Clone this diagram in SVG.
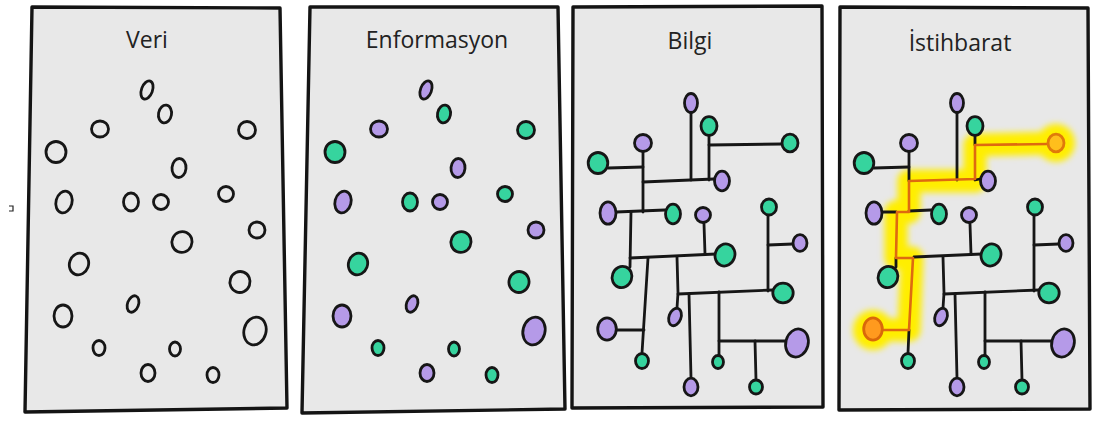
<svg xmlns="http://www.w3.org/2000/svg" width="1096" height="421" viewBox="0 0 1096 421">
<defs>
<style>
.panel{fill:#e8e8e8;stroke:#141414;stroke-width:3.4;stroke-linejoin:round}
.title{font-family:"Open Sans","Noto Sans","Liberation Sans",sans-serif;font-size:23px;fill:#222222;text-anchor:middle}
.n{stroke:#161616;stroke-width:2.8}
.e{fill:none}
.p{fill:#b59ae8}
.g{fill:#36d49e}
.o1{fill:#ff9a1e;stroke:#d9680a}
.o2{fill:#ffbe1c;stroke:#e07a0a}
.c{fill:none;stroke:#161616;stroke-width:2.8;stroke-linecap:round}
.hl{fill:none;stroke:#de6a10;stroke-width:2.6;stroke-linecap:round;stroke-linejoin:round}
</style>
<filter id="glow" x="-20%" y="-20%" width="140%" height="140%"><feGaussianBlur stdDeviation="3"/></filter>
</defs>
<rect width="1096" height="421" fill="#ffffff"/>
<path d="M9 206 H13 V211 H9" fill="none" stroke="#222" stroke-width="1.2"/>

<g id="panel-veri">
<path class="panel" d="M32 7 L280 8 L287 408 L25 412 Z"/>
<text class="title" x="147" y="48">Veri</text>
<g id="p1-n1"><ellipse class="n e" cx="147" cy="90" rx="5.5" ry="9.5" transform="rotate(20 147 90)"/></g>
<g id="p1-n2"><ellipse class="n e" cx="165" cy="114" rx="6.5" ry="9" transform="rotate(10 165 114)"/></g>
<g id="p1-n3"><ellipse class="n e" cx="100" cy="129" rx="8.5" ry="8"/></g>
<g id="p1-n4"><ellipse class="n e" cx="247" cy="130" rx="8.5" ry="8.5"/></g>
<g id="p1-n5"><ellipse class="n e" cx="56" cy="152" rx="10" ry="10.5"/></g>
<g id="p1-n6"><ellipse class="n e" cx="179" cy="168" rx="7" ry="9.5" transform="rotate(5 179 168)"/></g>
<g id="p1-n7"><ellipse class="n e" cx="64" cy="202" rx="8" ry="11" transform="rotate(15 64 202)"/></g>
<g id="p1-n8"><ellipse class="n e" cx="131" cy="202" rx="7.5" ry="9"/></g>
<g id="p1-n9"><ellipse class="n e" cx="161" cy="202" rx="7.5" ry="7.5"/></g>
<g id="p1-n10"><ellipse class="n e" cx="226" cy="194" rx="7.5" ry="7.5"/></g>
<g id="p1-n11"><ellipse class="n e" cx="257" cy="230" rx="8" ry="8"/></g>
<g id="p1-n12"><ellipse class="n e" cx="182" cy="242" rx="10" ry="10.5" transform="rotate(25 182 242)"/></g>
<g id="p1-n13"><ellipse class="n e" cx="79" cy="264" rx="9.5" ry="11" transform="rotate(20 79 264)"/></g>
<g id="p1-n14"><ellipse class="n e" cx="240" cy="282" rx="10" ry="10.5" transform="rotate(20 240 282)"/></g>
<g id="p1-n15"><ellipse class="n e" cx="133" cy="304" rx="5.5" ry="8.5" transform="rotate(20 133 304)"/></g>
<g id="p1-n16"><ellipse class="n e" cx="63" cy="316" rx="9" ry="11"/></g>
<g id="p1-n17"><ellipse class="n e" cx="255" cy="331" rx="11" ry="14" transform="rotate(15 255 331)"/></g>
<g id="p1-n18"><ellipse class="n e" cx="99" cy="348" rx="6" ry="7.5"/></g>
<g id="p1-n19"><ellipse class="n e" cx="175" cy="349" rx="5.5" ry="7"/></g>
<g id="p1-n20"><ellipse class="n e" cx="148" cy="373" rx="7" ry="8.5"/></g>
<g id="p1-n21"><ellipse class="n e" cx="213" cy="375" rx="6" ry="7.5"/></g>
</g>

<g id="panel-enformasyon">
<path class="panel" d="M310 7 L558 7 L565 409 L302 413 Z"/>
<text class="title" x="437" y="48">Enformasyon</text>
<g transform="translate(279 0)">
<g id="p2-n1"><ellipse class="n p" cx="147" cy="90" rx="5.5" ry="9.5" transform="rotate(20 147 90)"/></g>
<g id="p2-n2"><ellipse class="n g" cx="165" cy="114" rx="6.5" ry="9" transform="rotate(10 165 114)"/></g>
<g id="p2-n3"><ellipse class="n p" cx="100" cy="129" rx="8.5" ry="8"/></g>
<g id="p2-n4"><ellipse class="n g" cx="247" cy="130" rx="8.5" ry="8.5"/></g>
<g id="p2-n5"><ellipse class="n g" cx="56" cy="152" rx="10" ry="10.5"/></g>
<g id="p2-n6"><ellipse class="n p" cx="179" cy="168" rx="7" ry="9.5" transform="rotate(5 179 168)"/></g>
<g id="p2-n7"><ellipse class="n p" cx="64" cy="202" rx="8" ry="11" transform="rotate(15 64 202)"/></g>
<g id="p2-n8"><ellipse class="n g" cx="131" cy="202" rx="7.5" ry="9"/></g>
<g id="p2-n9"><ellipse class="n p" cx="161" cy="202" rx="7.5" ry="7.5"/></g>
<g id="p2-n10"><ellipse class="n g" cx="226" cy="194" rx="7.5" ry="7.5"/></g>
<g id="p2-n11"><ellipse class="n p" cx="257" cy="230" rx="8" ry="8"/></g>
<g id="p2-n12"><ellipse class="n g" cx="182" cy="242" rx="10" ry="10.5" transform="rotate(25 182 242)"/></g>
<g id="p2-n13"><ellipse class="n g" cx="79" cy="264" rx="9.5" ry="11" transform="rotate(20 79 264)"/></g>
<g id="p2-n14"><ellipse class="n g" cx="240" cy="282" rx="10" ry="10.5" transform="rotate(20 240 282)"/></g>
<g id="p2-n15"><ellipse class="n p" cx="133" cy="304" rx="5.5" ry="8.5" transform="rotate(20 133 304)"/></g>
<g id="p2-n16"><ellipse class="n p" cx="63" cy="316" rx="9" ry="11"/></g>
<g id="p2-n17"><ellipse class="n p" cx="255" cy="331" rx="11" ry="14" transform="rotate(15 255 331)"/></g>
<g id="p2-n18"><ellipse class="n g" cx="99" cy="348" rx="6" ry="7.5"/></g>
<g id="p2-n19"><ellipse class="n g" cx="175" cy="349" rx="5.5" ry="7"/></g>
<g id="p2-n20"><ellipse class="n p" cx="148" cy="373" rx="7" ry="8.5"/></g>
<g id="p2-n21"><ellipse class="n g" cx="213" cy="375" rx="6" ry="7.5"/></g>
</g>
</g>

<g id="panel-bilgi">
<path class="panel" d="M573 7 L822 6 L823 407 L572 408 Z"/>
<text class="title" x="690" y="49">Bilgi</text>
<g id="p3-connectors">
<path class="c" d="M691 113 L691 180"/>
<path class="c" d="M709 136 L709 180"/>
<path class="c" d="M709 145 L782 144"/>
<path class="c" d="M643 182 L714 179"/>
<path class="c" d="M643 152 L643 212"/>
<path class="c" d="M608 168 L643 167"/>
<path class="c" d="M616 212 L665 210"/>
<path class="c" d="M631 212 L630 267"/>
<path class="c" d="M630 258 L716 254"/>
<path class="c" d="M704 224 L705 254"/>
<path class="c" d="M648 258 L642 353"/>
<path class="c" d="M616 330 L644 330"/>
<path class="c" d="M677 257 L678 293 L677 308"/>
<path class="c" d="M678 294 L773 290"/>
<path class="c" d="M768 215 L768 291"/>
<path class="c" d="M768 245 L793 244"/>
<path class="c" d="M689 294 L691 378"/>
<path class="c" d="M719 292 L719 355"/>
<path class="c" d="M719 341 L786 341"/>
<path class="c" d="M755 341 L756 380"/>
</g>
<g id="p3-nodes">
<g id="p3-A"><ellipse class="n p" cx="691" cy="103" rx="6.5" ry="9.5"/></g>
<g id="p3-B"><ellipse class="n g" cx="709" cy="126" rx="8" ry="9.3"/></g>
<g id="p3-C"><ellipse class="n g" cx="790" cy="143" rx="8" ry="8.8"/></g>
<g id="p3-D"><ellipse class="n p" cx="643" cy="143" rx="8.5" ry="8.5"/></g>
<g id="p3-E"><ellipse class="n g" cx="598" cy="163" rx="9.8" ry="10.5"/></g>
<g id="p3-F"><ellipse class="n p" cx="722" cy="181" rx="7.5" ry="9.8"/></g>
<g id="p3-G"><ellipse class="n p" cx="608" cy="213" rx="8" ry="11.2"/></g>
<g id="p3-H"><ellipse class="n g" cx="673" cy="214" rx="7.5" ry="9.8"/></g>
<g id="p3-I"><ellipse class="n p" cx="703" cy="215" rx="7.5" ry="7.5"/></g>
<g id="p3-J"><ellipse class="n g" cx="725" cy="255" rx="9.8" ry="11.2" transform="rotate(20 725 255)"/></g>
<g id="p3-K"><ellipse class="n g" cx="622" cy="277" rx="9.8" ry="10.8" transform="rotate(20 622 277)"/></g>
<g id="p3-L"><ellipse class="n g" cx="769" cy="207" rx="7.5" ry="8"/></g>
<g id="p3-M"><ellipse class="n p" cx="800" cy="243" rx="7" ry="8.3"/></g>
<g id="p3-N"><ellipse class="n g" cx="783" cy="293" rx="10.2" ry="9.8"/></g>
<g id="p3-O"><ellipse class="n p" cx="675" cy="317" rx="6" ry="9" transform="rotate(20 675 317)"/></g>
<g id="p3-P"><ellipse class="n p" cx="607" cy="329" rx="9.3" ry="11.2"/></g>
<g id="p3-Q"><ellipse class="n g" cx="642" cy="361" rx="6.5" ry="7.5"/></g>
<g id="p3-R"><ellipse class="n p" cx="691" cy="387" rx="7" ry="8.8"/></g>
<g id="p3-S"><ellipse class="n g" cx="718" cy="362" rx="5.5" ry="6.5"/></g>
<g id="p3-T"><ellipse class="n p" cx="797" cy="343" rx="11.2" ry="14.2" transform="rotate(15 797 343)"/></g>
<g id="p3-U"><ellipse class="n g" cx="756" cy="387" rx="6.5" ry="7"/></g>
</g>
</g>

<g id="panel-istihbarat">
<path class="panel" d="M840 7 L1088 8 L1090 409 L839 410 Z"/>
<text class="title" x="960" y="51">İstihbarat</text>
<g id="p4-glow" filter="url(#glow)">
<path d="M873 330 L909 330 L912 258 L896 258 L896 212 L909 212 L909 181 L975 181 L975 145 L1056 143" fill="none" stroke="#ffee00" stroke-width="23" stroke-linejoin="round" stroke-linecap="round"/>
<circle cx="873" cy="330" r="20" fill="#ffee00"/>
<circle cx="1056" cy="143" r="19" fill="#ffee00"/>
</g>
<g transform="translate(266 0)">
<g id="p4-connectors">
<path class="c" d="M691 113 L691 180"/>
<path class="c" d="M709 136 L709 145"/>
<path class="c" d="M709 180 L714 179"/>
<path class="c" d="M643 152 L643 181"/>
<path class="c" d="M608 168 L643 167"/>
<path class="c" d="M643 211 L665 210"/>
<path class="c" d="M616 212 L630 212"/>
<path class="c" d="M630 258 L630 267"/>
<path class="c" d="M648 257 L716 254"/>
<path class="c" d="M704 224 L705 254"/>
<path class="c" d="M643 330 L642 353"/>
<path class="c" d="M677 257 L678 293 L677 308"/>
<path class="c" d="M678 294 L773 290"/>
<path class="c" d="M768 215 L768 291"/>
<path class="c" d="M768 245 L793 244"/>
<path class="c" d="M689 294 L691 378"/>
<path class="c" d="M719 292 L719 355"/>
<path class="c" d="M719 341 L786 341"/>
<path class="c" d="M755 341 L756 380"/>
<path class="hl" d="M616 330 L643 330 L647 258 L630 258 L631 212 L643 212 L643 181 L709 179 L709 145 L782 144"/>
</g>
<g id="p4-nodes">
<g id="p4-A"><ellipse class="n p" cx="691" cy="103" rx="6.5" ry="9.5"/></g>
<g id="p4-B"><ellipse class="n g" cx="709" cy="126" rx="8" ry="9.3"/></g>
<g id="p4-C"><ellipse class="n o2" cx="790" cy="143" rx="8" ry="8.8"/></g>
<g id="p4-D"><ellipse class="n p" cx="643" cy="143" rx="8.5" ry="8.5"/></g>
<g id="p4-E"><ellipse class="n g" cx="598" cy="163" rx="9.8" ry="10.5"/></g>
<g id="p4-F"><ellipse class="n p" cx="722" cy="181" rx="7.5" ry="9.8"/></g>
<g id="p4-G"><ellipse class="n p" cx="608" cy="213" rx="8" ry="11.2"/></g>
<g id="p4-H"><ellipse class="n g" cx="673" cy="214" rx="7.5" ry="9.8"/></g>
<g id="p4-I"><ellipse class="n p" cx="703" cy="215" rx="7.5" ry="7.5"/></g>
<g id="p4-J"><ellipse class="n g" cx="725" cy="255" rx="9.8" ry="11.2" transform="rotate(20 725 255)"/></g>
<g id="p4-K"><ellipse class="n g" cx="622" cy="277" rx="9.8" ry="10.8" transform="rotate(20 622 277)"/></g>
<g id="p4-L"><ellipse class="n g" cx="769" cy="207" rx="7.5" ry="8"/></g>
<g id="p4-M"><ellipse class="n p" cx="800" cy="243" rx="7" ry="8.3"/></g>
<g id="p4-N"><ellipse class="n g" cx="783" cy="293" rx="10.2" ry="9.8"/></g>
<g id="p4-O"><ellipse class="n p" cx="675" cy="317" rx="6" ry="9" transform="rotate(20 675 317)"/></g>
<g id="p4-P"><ellipse class="n o1" cx="607" cy="329" rx="9.3" ry="11.2"/></g>
<g id="p4-Q"><ellipse class="n g" cx="642" cy="361" rx="6.5" ry="7.5"/></g>
<g id="p4-R"><ellipse class="n p" cx="691" cy="387" rx="7" ry="8.8"/></g>
<g id="p4-S"><ellipse class="n g" cx="718" cy="362" rx="5.5" ry="6.5"/></g>
<g id="p4-T"><ellipse class="n p" cx="797" cy="343" rx="11.2" ry="14.2" transform="rotate(15 797 343)"/></g>
<g id="p4-U"><ellipse class="n g" cx="756" cy="387" rx="6.5" ry="7"/></g>
</g>
</g>
</g>
</svg>
